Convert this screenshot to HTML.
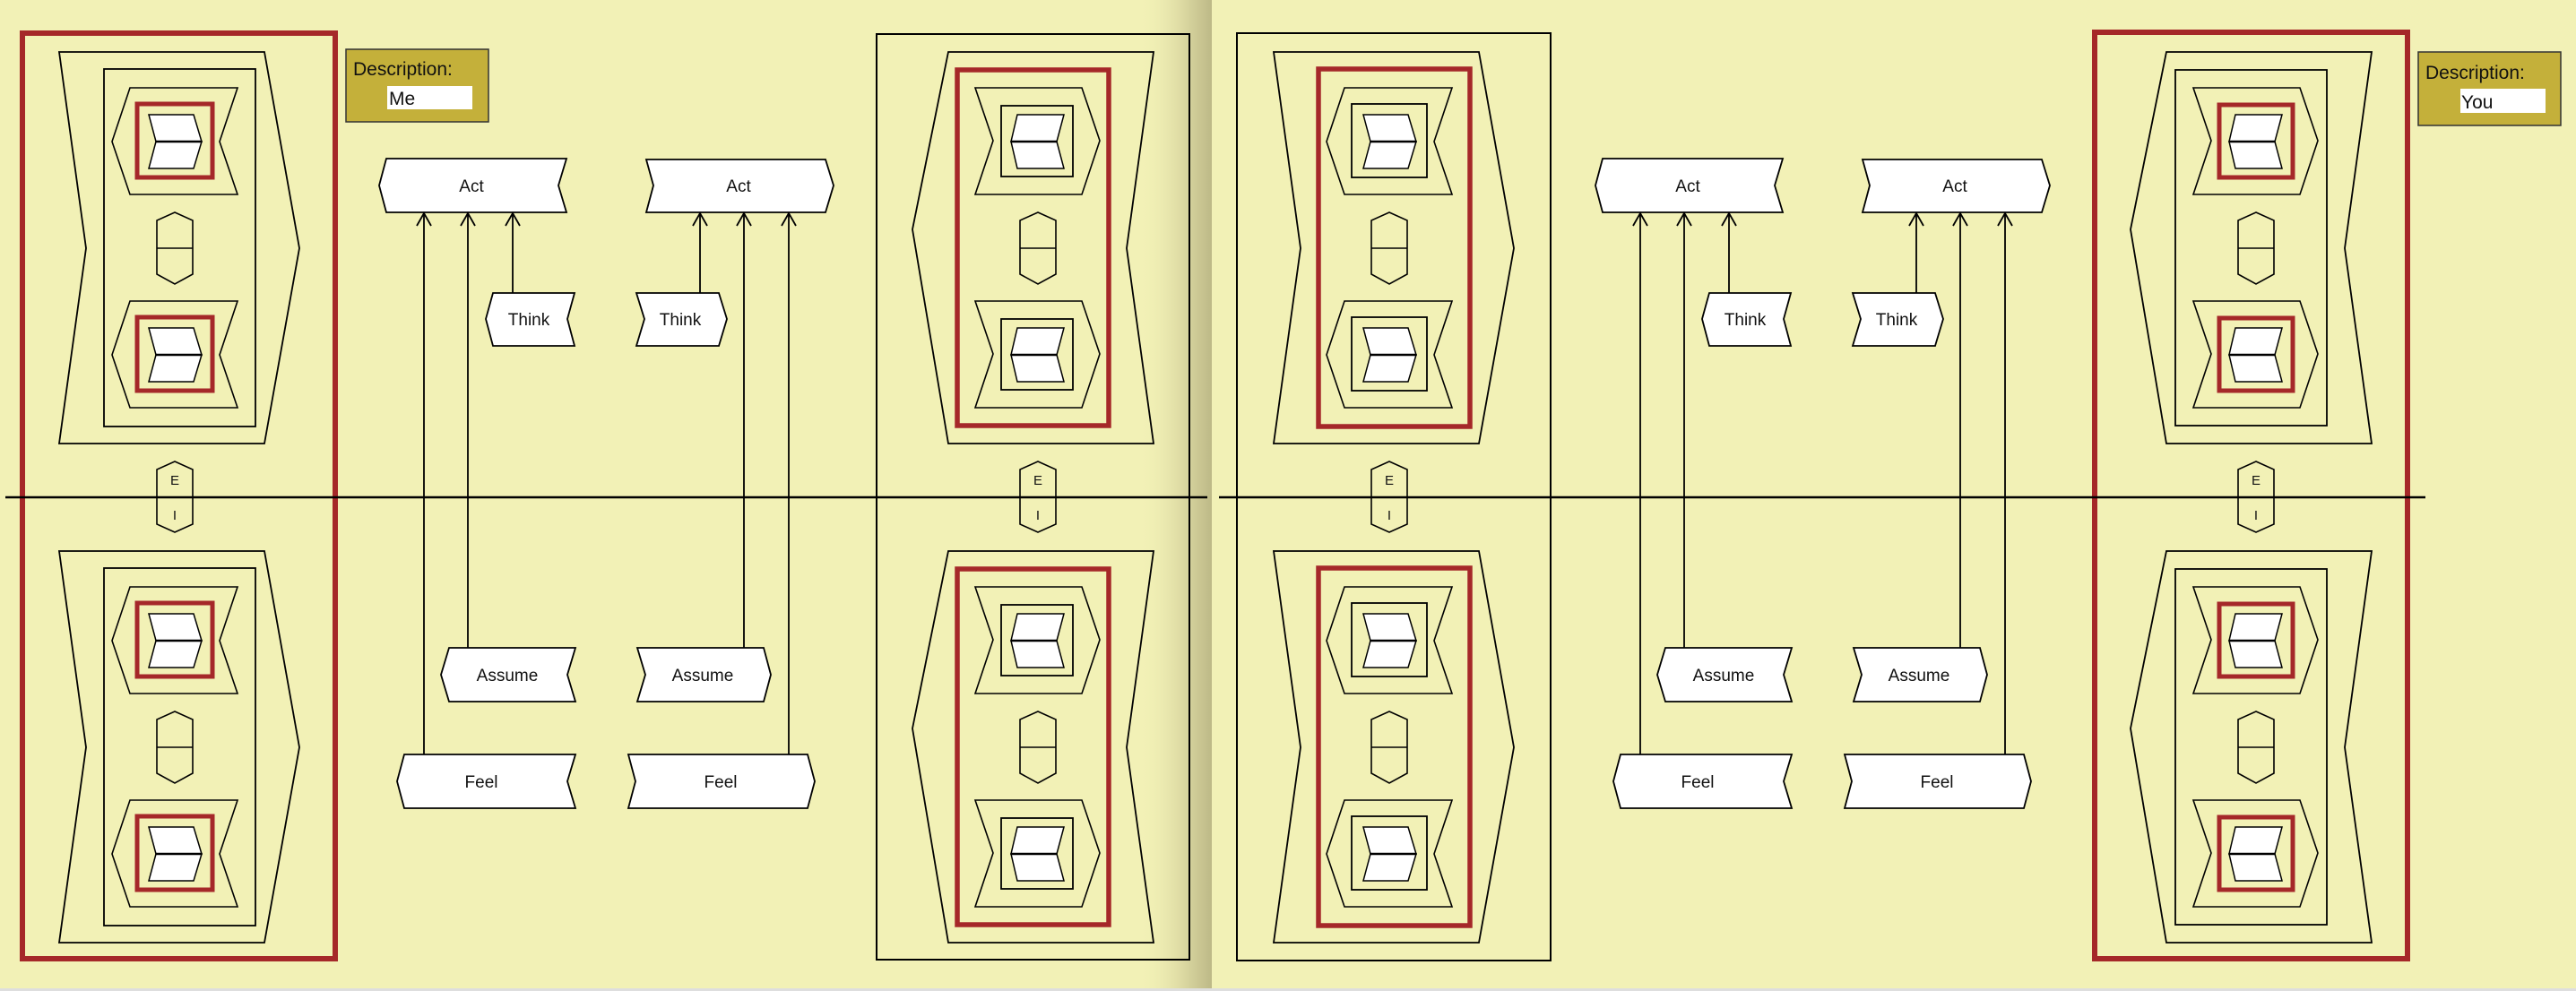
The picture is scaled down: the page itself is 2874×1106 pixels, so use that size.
<!DOCTYPE html>
<html><head><meta charset="utf-8"><style>
html,body{margin:0;padding:0;background:#f2f1b6;}
svg{display:block;}
text{font-family:"Liberation Sans","DejaVu Sans",sans-serif;fill:#111;}
</style></head><body>
<svg width="2874" height="1106" viewBox="0 0 2874 1106" xmlns="http://www.w3.org/2000/svg">
<defs>
<linearGradient id="sh" x1="0" x2="1" y1="0" y2="0">
<stop offset="0" stop-color="#f2f1b6" stop-opacity="0"/>
<stop offset="0.6" stop-color="#dcd9a2"/>
<stop offset="1" stop-color="#bdb987"/>
</linearGradient>
<g id="chA">
<polygon points="145,98 265,98 245,158 265,217 145,217 125,158" fill="none" stroke="#000" stroke-width="1.6"/>
<polygon points="166,128 216,128 225,158 174,158" fill="#fff" stroke="#000" stroke-width="1.5"/>
<polygon points="174,158 225,158 216,188 166,188" fill="#fff" stroke="#000" stroke-width="1.5"/>
<line x1="174" y1="158" x2="225" y2="158" stroke="#000" stroke-width="2.5"/>
</g>
<g id="chB">
<polygon points="1088,98 1207,98 1227,157 1207,217 1088,217 1108,157" fill="none" stroke="#000" stroke-width="1.6"/>
<polygon points="1135,128 1187,128 1179,158 1128,158" fill="#fff" stroke="#000" stroke-width="1.5"/>
<polygon points="1128,158 1179,158 1187,188 1135,188" fill="#fff" stroke="#000" stroke-width="1.5"/>
<line x1="1128" y1="158" x2="1179" y2="158" stroke="#000" stroke-width="2.5"/>
</g>
<g id="hexA">
<polygon points="195,237 215,246 215,306 195,317 175,306 175,246" fill="none" stroke="#000" stroke-width="1.6"/>
<line x1="175" y1="277" x2="215" y2="277" stroke="#000" stroke-width="1.6"/>
</g>
<g id="blk1">
<polygon points="66,58 295,58 334,277 295,495 66,495 96,277" fill="none" stroke="#000" stroke-width="1.8"/>
<rect x="116" y="77" width="169" height="399" fill="none" stroke="#000" stroke-width="1.8"/>
<use href="#chA"/><use href="#chA" y="238"/>
<rect x="153" y="116" width="84" height="82" fill="none" stroke="#a52829" stroke-width="5"/>
<rect x="153" y="354" width="84" height="82" fill="none" stroke="#a52829" stroke-width="5"/>
<use href="#hexA"/>
</g>
<g id="blk3">
<polygon points="66,58 295,58 334,277 295,495 66,495 96,277" fill="none" stroke="#000" stroke-width="1.8"/>
<rect x="116" y="77" width="169" height="399" fill="none" stroke="#a52829" stroke-width="5.5"/>
<use href="#chA"/><use href="#chA" y="238"/>
<rect x="153" y="116" width="84" height="82" fill="none" stroke="#000" stroke-width="1.8"/>
<rect x="153" y="354" width="84" height="82" fill="none" stroke="#000" stroke-width="1.8"/>
<use href="#hexA"/>
</g>
<g id="blk2">
<polygon points="1058,58 1287,58 1257,277 1287,495 1058,495 1018,256" fill="none" stroke="#000" stroke-width="1.8"/>
<rect x="1068" y="78" width="169" height="397" fill="none" stroke="#a52829" stroke-width="5.5"/>
<use href="#chB"/><use href="#chB" y="238"/>
<rect x="1117" y="118" width="80" height="79" fill="none" stroke="#000" stroke-width="1.8"/>
<rect x="1117" y="356" width="80" height="79" fill="none" stroke="#000" stroke-width="1.8"/>
<use href="#hexA" x="963"/>
</g>
<g id="blk4">
<polygon points="1058,58 1287,58 1257,277 1287,495 1058,495 1018,256" fill="none" stroke="#000" stroke-width="1.8"/>
<rect x="1068" y="78" width="169" height="397" fill="none" stroke="#000" stroke-width="1.8"/>
<use href="#chB"/><use href="#chB" y="238"/>
<rect x="1117" y="117" width="82" height="81" fill="none" stroke="#a52829" stroke-width="5"/>
<rect x="1117" y="355" width="82" height="81" fill="none" stroke="#a52829" stroke-width="5"/>
<use href="#hexA" x="963"/>
</g>
<g id="eihex">
<polygon points="0,515 20,524 20,585 0,594 -20,585 -20,524" fill="none" stroke="#000" stroke-width="1.6"/>
<text x="0" y="541" font-size="15" text-anchor="middle">E</text>
<text x="0" y="580" font-size="15" text-anchor="middle">I</text>
</g>
<g id="arrow">
<polyline points="-8,252 0,238 8,252" fill="none" stroke="#000" stroke-width="1.8"/>
</g>
<g id="mid">
<g fill="#fff" stroke="#000" stroke-width="1.8">
<polygon points="431,177 632,177 623,207 632,237 431,237 423,207"/>
<polygon points="721,178 921,178 930,207 921,237 721,237 729,207"/>
<polygon points="550,327 641,327 633,356 641,386 550,386 542,356"/>
<polygon points="710,327 802,327 811,356 802,386 710,386 719,356"/>
<polygon points="501,723 642,723 633,753 642,783 501,783 492,753"/>
<polygon points="711,723 852,723 860,753 852,783 711,783 720,753"/>
<polygon points="451,842 642,842 633,872 642,902 451,902 443,872"/>
<polygon points="701,842 901,842 909,872 901,902 701,902 709,872"/>
</g>
<g stroke="#000" stroke-width="1.8">
<line x1="473" y1="238" x2="473" y2="842"/>
<line x1="522" y1="238" x2="522" y2="723"/>
<line x1="572" y1="238" x2="572" y2="327"/>
<line x1="781" y1="238" x2="781" y2="327"/>
<line x1="830" y1="238" x2="830" y2="723"/>
<line x1="880" y1="238" x2="880" y2="842"/>
</g>
<use href="#arrow" x="473"/><use href="#arrow" x="522"/><use href="#arrow" x="572"/>
<use href="#arrow" x="781"/><use href="#arrow" x="830"/><use href="#arrow" x="880"/>
<g font-size="19" text-anchor="middle">
<text x="526" y="214">Act</text>
<text x="824" y="214">Act</text>
<text x="590" y="363">Think</text>
<text x="759" y="363">Think</text>
<text x="566" y="760">Assume</text>
<text x="784" y="760">Assume</text>
<text x="537" y="879">Feel</text>
<text x="804" y="879">Feel</text>
</g>
</g>
</defs>

<rect x="0" y="0" width="2874" height="1106" fill="#f2f1b6"/>
<rect x="1270" y="0" width="82" height="1106" fill="url(#sh)"/>
<rect x="0" y="1103" width="2874" height="3" fill="#dedede"/>

<rect x="25" y="37" width="349" height="1033" fill="none" stroke="#a52829" stroke-width="6"/>
<use href="#blk1"/><use href="#blk1" y="557"/>
<rect x="978" y="38" width="349" height="1033" fill="none" stroke="#000" stroke-width="2"/>
<use href="#blk2"/><use href="#blk2" y="557"/>
<rect x="1380" y="37" width="350" height="1035" fill="none" stroke="#000" stroke-width="2"/>
<use href="#blk3" x="1355"/><use href="#blk3" x="1355" y="557"/>
<rect x="2337" y="36" width="349" height="1034" fill="none" stroke="#a52829" stroke-width="6"/>
<use href="#blk4" x="1359"/><use href="#blk4" x="1359" y="557"/>

<line x1="6" y1="555" x2="1347" y2="555" stroke="#000" stroke-width="2.6"/>
<line x1="1360" y1="555" x2="2706" y2="555" stroke="#000" stroke-width="2.6"/>

<use href="#eihex" x="195"/>
<use href="#eihex" x="1158"/>
<use href="#eihex" x="1550"/>
<use href="#eihex" x="2517"/>

<use href="#mid"/>
<use href="#mid" x="1357"/>

<rect x="386" y="55" width="159" height="81" fill="#c4b03a" stroke="#333" stroke-width="1.5"/>
<text x="394" y="84" font-size="21">Description:</text>
<rect x="432" y="96" width="95" height="26" fill="#fff"/>
<text x="434" y="117" font-size="21">Me</text>

<rect x="2698" y="58" width="159" height="82" fill="#c4b03a" stroke="#333" stroke-width="1.5"/>
<text x="2706" y="88" font-size="21">Description:</text>
<rect x="2745" y="99" width="95" height="27" fill="#fff"/>
<text x="2746" y="121" font-size="21">You</text>
</svg>
</body></html>
